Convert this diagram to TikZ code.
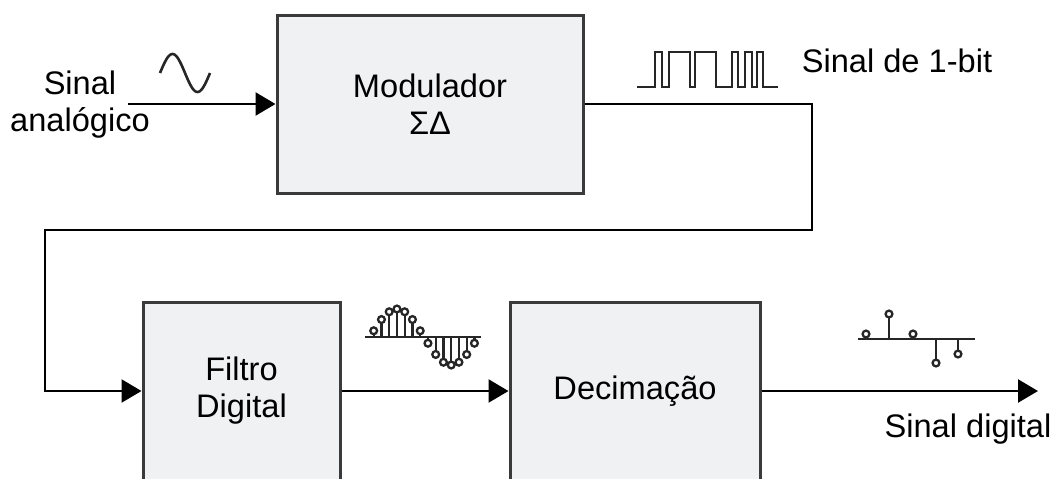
\documentclass[tikz,border=0pt]{standalone}
\usepackage{fontspec}
\setmainfont{Liberation Sans}
\usepackage{tikz}
\usetikzlibrary{arrows.meta,positioning}
\definecolor{blockFill}{HTML}{F0F1F3}
\definecolor{blockLine}{HTML}{3A3A3A}
\definecolor{sigInk}{HTML}{262626}

\begin{document}
\begin{tikzpicture}[x=.5pt,y=-.5pt,
  block/.style={draw=blockLine,line width=1.5pt,fill=blockFill,align=center,inner sep=0pt,
    font=\fontsize{16.3}{18.5}\selectfont},
  txt/.style={font=\fontsize{16.3}{18.5}\selectfont,align=center,inner sep=0pt},
  wire/.style={line width=1.2pt,-{Triangle[length=10pt,width=11.5pt]}},
  ink/.style={sigInk,line width=1.3pt},
  stem/.style={sigInk,line width=1.15pt}]
  \useasboundingbox (0,0) rectangle (1057,478);
  \clip (0,0) rectangle (1057,478);
  \def\stemdot#1#2#3{%
    \draw[stem] (#2,#1) -- (#2,#3);
    \filldraw[stem,fill=white] (#2,#3) circle[radius=1.7pt];
  }

  \node[block,minimum width=153pt,minimum height=89pt] (mod) at (430,104) {Modulador\\ΣΔ};
  \node[block,minimum width=98.5pt,minimum height=89pt] (filt) at (241.5,391) {Filtro\\Digital};
  \node[block,minimum width=125pt,minimum height=89pt] (dec) at (635,391) {Decimação};

  \node[txt] (ana) at (80,105) {Sinal\\analógico};
  \node[txt,anchor=base] (bit) at (897,72) {Sinal de 1-bit};
  \node[txt,anchor=base] (dig) at (968,437) {Sinal digital};

  \coordinate (src) at (128,104);
  \coordinate (loopR) at (812,230);
  \coordinate (loopL) at (45,230);
  \coordinate (sink) at (1038,391);
  \draw[wire] (src) -- (mod.west);
  \draw[wire] (mod.east) -| (loopR) -- (loopL) |- (filt.west);
  \draw[wire] (filt) -- (dec);
  \draw[wire] (dec) -- (sink);

  % analog input
  \draw[ink] plot[domain=0:50,samples=41,smooth] ({160+\x},{73-19*sin(7.2*\x)});

  % 1-bit stream
  \draw[ink] (637,87) -| (655,52) -| (662,87) -| (669,52) -| (690,87) -| (695,52)
    -| (716,87) -| (732,52) -| (738,87) -| (745,52) -| (752,87) -| (757,52)
    -| (763,87) -- (778,87);

  % filtered samples
  \draw[stem] (365,337) -- (481,337);
  \foreach \k in {0,...,13}{
    \pgfmathsetmacro\sx{373.7+7.75*\k}
    \pgfmathsetmacro\sy{337-28*sin((2*\k+1)*180/14)}
    \stemdot{337}{\sx}{\sy}
  }

  % decimated samples
  \draw[stem] (858,339) -- (975,339);
  \foreach \sx/\sy in {866/334,889/314,913/334,936/363,958/354}{
    \stemdot{339}{\sx}{\sy}
  }
\end{tikzpicture}
\end{document}
